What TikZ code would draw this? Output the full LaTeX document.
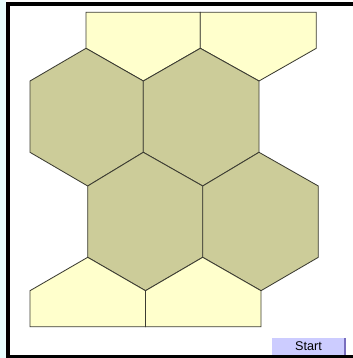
\documentclass[tikz,border=0pt]{standalone}
\usepackage{fontspec}
\setsansfont{Liberation Sans}
\usetikzlibrary{positioning}
\definecolor{tileOlive}{RGB}{204,204,153}
\definecolor{tileCream}{RGB}{255,255,204}
\definecolor{tileEdge}{RGB}{60,60,50}
\definecolor{btnLilac}{RGB}{204,204,255}
\definecolor{btnEdge}{RGB}{120,110,190}
\definecolor{pageCyan}{RGB}{232,255,255}

\begin{document}
\begin{tikzpicture}[x=1mm, y=-1mm,
  hexcell/.style={fill=tileOlive, draw=tileEdge, line width=2.4pt, line join=miter},
  pentcell/.style={fill=tileCream, draw=tileEdge, line width=2.4pt, line join=miter},
  framebar/.style={fill=black, draw=none},
  startbtn/.style={fill=btnLilac, draw=none, font=\sffamily\fontsize{36}{38}\selectfont,
                   minimum width=73mm, minimum height=17mm, inner sep=0pt, anchor=north west}
]
\useasboundingbox (0,0) rectangle (353,358);
\fill[white] (0,0) rectangle (353,358);
\fill[pageCyan] (0,0) rectangle (6,358);
%% Frame
\fill[framebar] (6,2) rectangle (10,358);
\fill[framebar] (6,2) rectangle (353,6);
\fill[framebar] (6,355) rectangle (353,358);
%% Top pentagons
\filldraw[pentcell] (86,12.3) -- (200.3,12.3) -- (200.3,48.3) -- (143.3,81) -- (86,48.3) -- cycle;
\filldraw[pentcell] (200.3,12.3) -- (316.3,12.3) -- (316.3,48.3) -- (259,81) -- (200.3,48.3) -- cycle;
%% Hexagons, upper row
\filldraw[hexcell] (30,81) -- (86,48.3) -- (143.3,81) -- (143.3,152.3) -- (87.7,186) -- (30,152.3) -- cycle;
\filldraw[hexcell] (143.3,81) -- (200.3,48.3) -- (259,81) -- (259,152.3) -- (202.7,186) -- (143.3,152.3) -- cycle;
%% Hexagons, lower row
\filldraw[hexcell] (87.7,186) -- (143.3,152.3) -- (202.7,186) -- (202.7,257.3) -- (145.5,290.7) -- (87.7,257.3) -- cycle;
\filldraw[hexcell] (202.7,186) -- (259,152.3) -- (318.3,186) -- (318.3,257.3) -- (261,290.7) -- (202.7,257.3) -- cycle;
%% Bottom pentagons
\filldraw[pentcell] (30,290.7) -- (87.7,257.3) -- (145.5,290.7) -- (145.5,326.7) -- (30,326.7) -- cycle;
\filldraw[pentcell] (145.5,290.7) -- (202.7,257.3) -- (261,290.7) -- (261,326.7) -- (145.5,326.7) -- cycle;
%% Start button
\node[startbtn] (start) at (272,338) {Start};
\draw[btnEdge, line width=5pt] (start.north east) -- (start.south east);
\end{tikzpicture}
\end{document}
